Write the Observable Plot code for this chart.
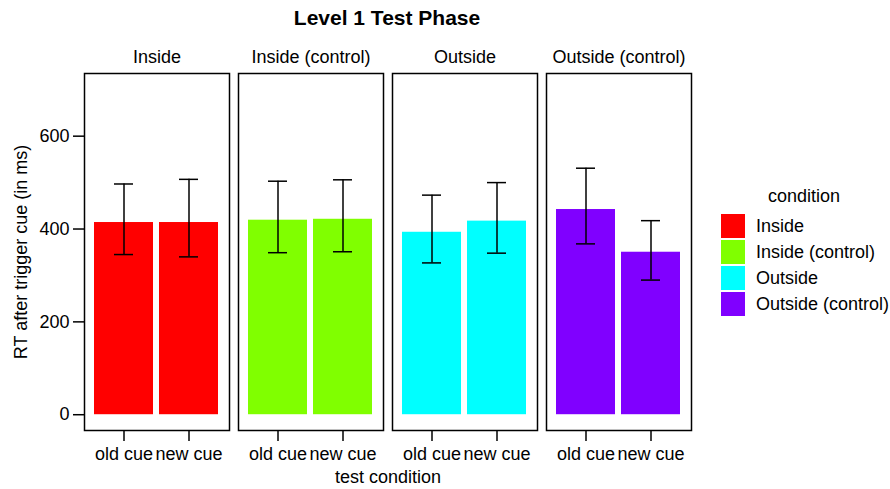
<!DOCTYPE html>
<html>
<head>
<meta charset="utf-8">
<script src="https://cdn.jsdelivr.net/npm/d3@7"></script>
<script src="https://cdn.jsdelivr.net/npm/@observablehq/plot@0.6"></script>
<style>
  body { margin: 0; background: #fff; }
  #wrap { position: relative; width: 890px; height: 489px; font-family: "Liberation Sans", Arial, Helvetica, sans-serif; color: #000; }
  #wrap svg { position: absolute; left: 0; top: 0; }
  .ov { position: absolute; white-space: nowrap; line-height: 1; }
</style>
</head>
<body>
<div id="wrap"></div>
<script>
// ---- data ----
const conditions = ["Inside", "Inside (control)", "Outside", "Outside (control)"];
const cues = ["old cue", "new cue"];
const colors = ["#FF0000", "#80FF00", "#00FFFF", "#8000FF"];
// mean RT per condition, [old cue, new cue]
const meanInside = [414, 414];
const meanInsideControl = [419, 421];
const meanOutside = [393, 417];
const meanOutsideControl = [442, 350];
// error bar lower / upper
const lowInside = [345, 340];
const lowInsideControl = [349, 351];
const lowOutside = [327, 348];
const lowOutsideControl = [368, 290];
const highInside = [497, 507];
const highInsideControl = [503, 506];
const highOutside = [473, 500];
const highOutsideControl = [531, 418];
const yTicks = [0, 200, 400, 600];

const means = [meanInside, meanInsideControl, meanOutside, meanOutsideControl];
const lows = [lowInside, lowInsideControl, lowOutside, lowOutsideControl];
const highs = [highInside, highInsideControl, highOutside, highOutsideControl];

const data = [];
conditions.forEach((c, i) => cues.forEach((q, j) => {
  data.push({condition: c, cue: q, rt: means[i][j], lo: lows[i][j], hi: highs[i][j]});
}));

const FS = 18;
const chart = Plot.plot({
  width: 890,
  height: 489,
  marginTop: 73,
  marginBottom: 59,
  marginLeft: 83,
  marginRight: 197,
  style: {fontFamily: '"Liberation Sans", Arial, Helvetica, sans-serif', fontSize: FS + "px", color: "#000", background: "#fff"},
  fx: {domain: conditions, paddingInner: 0.0556, paddingOuter: 0},
  x: {domain: cues, paddingInner: 0.0909, paddingOuter: 0.1515},
  y: {domain: [-34, 735]},
  color: {domain: conditions, range: colors},
  marks: [
    Plot.barY(data, {fx: "condition", x: "cue", y: "rt", fill: "condition"}),
    Plot.ruleX(data, {fx: "condition", x: "cue", y1: "lo", y2: "hi", stroke: "#000", strokeWidth: 1.5}),
    Plot.tickY(data, {fx: "condition", x: "cue", y: "lo", stroke: "#000", strokeWidth: 1.5, insetLeft: 20, insetRight: 20}),
    Plot.tickY(data, {fx: "condition", x: "cue", y: "hi", stroke: "#000", strokeWidth: 1.5, insetLeft: 20, insetRight: 20}),
    Plot.frame({stroke: "#000", strokeWidth: 1.5}),
    Plot.axisFx({anchor: "top", tickSize: 0, tickPadding: 11, fontSize: FS, label: null}),
    Plot.axisX({anchor: "bottom", tickSize: 11, tickPadding: 6, fontSize: FS, label: null, strokeWidth: 1.5}),
    Plot.axisY({anchor: "left", ticks: yTicks, tickSize: 11, tickPadding: 4, fontSize: FS, label: null, strokeWidth: 1.5})
  ]
});

const wrap = document.getElementById("wrap");
wrap.appendChild(chart);

function addText(txt, css) {
  const d = document.createElement("div");
  d.className = "ov";
  d.textContent = txt;
  Object.assign(d.style, css);
  wrap.appendChild(d);
  return d;
}
// title
addText("Level 1 Test Phase", {left: "387px", top: "7px", transform: "translateX(-50%)", fontSize: "21px", fontWeight: "bold"});
// axis titles
addText("test condition", {left: "388px", top: "468px", transform: "translateX(-50%)", fontSize: FS + "px"});
addText("RT after trigger cue (in ms)", {left: "21px", top: "252px", transform: "translate(-50%,-50%) rotate(-90deg)", fontSize: FS + "px"});
// legend
addText("condition", {left: "804px", top: "187px", transform: "translateX(-50%)", fontSize: FS + "px"});
conditions.forEach((c, i) => {
  const y = 214 + i * 26;
  const sw = document.createElement("div");
  Object.assign(sw.style, {position: "absolute", left: "721px", top: y + "px", width: "24px", height: "24px", background: colors[i]});
  wrap.appendChild(sw);
  addText(c, {left: "756px", top: (y + 3) + "px", fontSize: FS + "px"});
});
</script>
</body>
</html>
